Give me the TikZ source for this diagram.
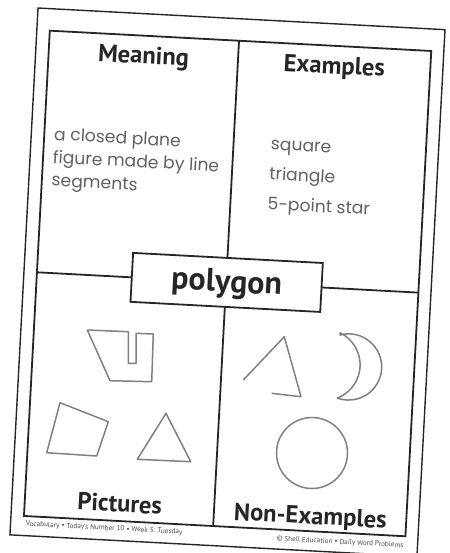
\documentclass[tikz,border=0pt]{standalone}
\usepackage{fontspec}
\setmainfont{PT Sans}
\newfontfamily\handfont{Poppins}
\begin{document}
\begin{tikzpicture}[x=0.5pt,y=-0.5pt,
  frame/.style={draw=black!85, line width=0.9pt},
  heading/.style={font=\bfseries\fontsize{12.3}{14}\selectfont, text=black!85, inner sep=0pt, anchor=base},
  handtext/.style={font=\handfont\fontsize{8.6}{11}\selectfont, text=black!62, inner sep=0pt, anchor=base west},
  shapeline/.style={draw=black!50, line width=0.75pt, line join=round},
  footer/.style={font=\fontsize{3.6}{4}\selectfont, text=black!70, inner sep=0pt}]
\useasboundingbox (0,0) rectangle (450,553);
\clip (0,0) rectangle (450,553);
\begin{scope}[shift={(38,8)}, rotate=-3.05, transform shape]
  \draw[frame, line width=0.7pt] (0,0) rectangle (407.6,527.6);
  \draw[frame] (13,22) rectangle (395,508);
  \coordinate (vt) at (202.5,22);
  \coordinate (vb) at (202.5,508);
  \coordinate (hl) at (13,264);
  \coordinate (hr) at (395,264);
  \draw[frame] (vt) -- (vb);
  \draw[frame] (hl) -- (hr);
  \node[draw=black!85, line width=0.9pt, fill=white, minimum width=95pt, minimum height=24.5pt] (term) at (203,264) {};
  \node[font=\bfseries\fontsize{16}{18}\selectfont, text=black!85, inner sep=0pt, anchor=base] (termtext) at (203,273.5) {polygon};
  \node[heading] (meaning) at (108,50) {Meaning};
  \node[heading] (examples) at (299,50) {Examples};
  \node[heading] (pictures) at (108,499) {Pictures};
  \node[heading] (nonex) at (299,501) {Non-Examples};
  \node[handtext] (m1) at (22.5,131) {a closed plane};
  \node[handtext] (m2) at (22.5,154) {figure made by line};
  \node[handtext] (m3) at (22.5,177) {segments};
  \node[handtext] (e1) at (239.5,129) {square};
  \node[handtext] (e2) at (239.5,159) {triangle};
  \node[handtext] (e3) at (239.5,189) {5-point star};
  \node[footer, anchor=west] (fl) at (15,516) {Vocabulary • Today’s Number 10 • Week 3: Tuesday};
  \node[footer, anchor=east] (fr) at (394,517.5) {© Shell Education • Daily Word Problems};
\end{scope}
% pictures
\draw[shapeline] (87.3,330) -- (128.3,331.7) -- (128.3,363.3) -- (136,363.3) -- (136,333.3) -- (153.3,334) -- (151.7,381.7) -- (110,380.7) -- cycle;
\draw[shapeline] (60,402.7) -- (108.3,421.7) -- (96.7,456) -- (46.7,452.7) -- cycle;
\draw[shapeline] (166,413.3) -- (190.7,461.7) -- (137.3,459.3) -- cycle;
% non-examples
\draw[shapeline] (243.3,380) -- (284.3,336.7) -- (301,396.7) -- (271.7,393.3);
\draw[shapeline] (340,335) arc[start angle=-105, end angle=110, radius=33.1] arc[start angle=69, end angle=-64, radius=35.6] -- cycle;
\draw[shapeline] (312,453) circle[radius=35.5];
\end{tikzpicture}
\end{document}
